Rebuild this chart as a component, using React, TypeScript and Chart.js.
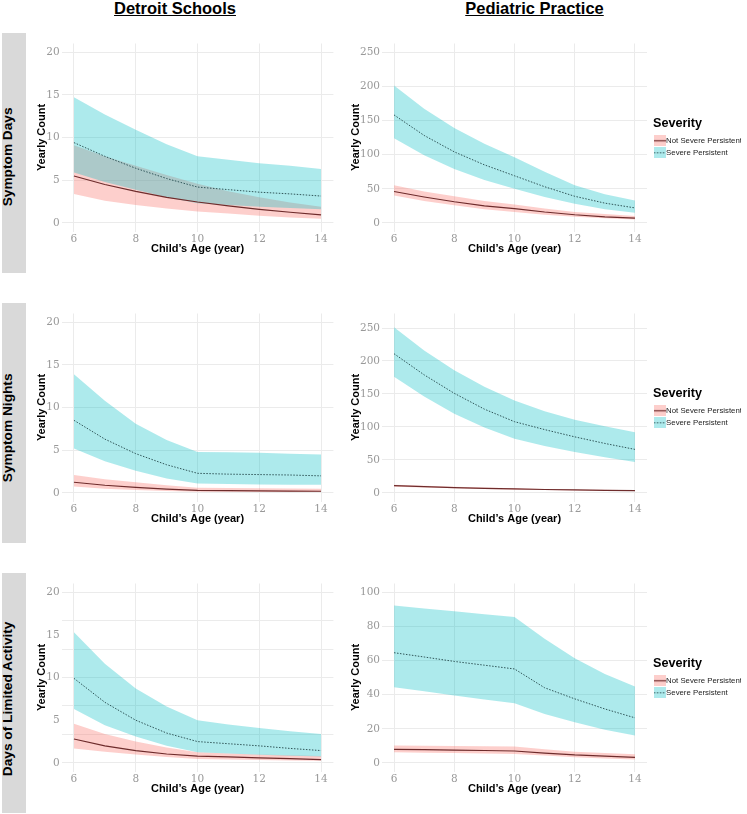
import React, { useEffect, useRef } from 'react';
import { Chart, registerables } from 'chart.js';
Chart.register(...registerables);

// ---------- data ----------
const ages = [6, 7, 8, 9, 10, 11, 12, 13, 14];
const xTickVals = [6, 8, 10, 12, 14];
const severityLabels = ['Not Severe Persistent', 'Severe Persistent'];
const columnTitles = ['Detroit Schools', 'Pediatric Practice'];
const rowTitles = ['Symptom Days', 'Symptom Nights', 'Days of Limited Activity'];

// Detroit Schools – Symptom Days
const dsDaysNspMean = [5.5, 4.5, 3.7, 3.0, 2.45, 2.0, 1.6, 1.25, 0.95];
const dsDaysNspLow = [3.4, 2.6, 2.1, 1.7, 1.35, 1.1, 0.85, 0.65, 0.5];
const dsDaysNspHigh = [9.1, 7.8, 6.7, 5.6, 4.6, 3.7, 3.0, 2.4, 1.9];
const dsDaysSpMean = [9.4, 7.8, 6.4, 5.2, 4.2, 3.9, 3.6, 3.4, 3.15];
const dsDaysSpLow = [5.9, 4.8, 3.9, 3.0, 2.3, 2.1, 1.9, 1.75, 1.6];
const dsDaysSpHigh = [14.7, 12.7, 10.9, 9.2, 7.8, 7.4, 7.0, 6.7, 6.3];

// Detroit Schools – Symptom Nights
const dsNightsNspMean = [1.25, 0.9, 0.65, 0.45, 0.3, 0.27, 0.24, 0.22, 0.2];
const dsNightsNspLow = [0.75, 0.5, 0.35, 0.22, 0.15, 0.13, 0.12, 0.11, 0.1];
const dsNightsNspHigh = [2.1, 1.6, 1.25, 0.9, 0.6, 0.57, 0.55, 0.52, 0.5];
const dsNightsSpMean = [8.5, 6.3, 4.6, 3.3, 2.3, 2.2, 2.15, 2.1, 2.0];
const dsNightsSpLow = [5.2, 3.7, 2.6, 1.7, 1.1, 1.05, 1.0, 0.97, 0.95];
const dsNightsSpHigh = [13.9, 10.8, 8.1, 6.2, 4.8, 4.75, 4.7, 4.6, 4.5];

// Detroit Schools – Days of Limited Activity
const dsLimNspMean = [2.8, 2.0, 1.45, 1.05, 0.8, 0.7, 0.6, 0.5, 0.4];
const dsLimNspLow = [1.7, 1.3, 1.0, 0.7, 0.45, 0.4, 0.35, 0.3, 0.25];
const dsLimNspHigh = [4.6, 3.4, 2.5, 1.8, 1.25, 1.1, 1.0, 0.9, 0.8];
const dsLimSpMean = [9.9, 7.1, 5.0, 3.5, 2.5, 2.25, 2.0, 1.7, 1.45];
const dsLimSpLow = [6.3, 4.4, 3.1, 2.0, 1.25, 1.1, 0.95, 0.85, 0.75];
const dsLimSpHigh = [15.3, 11.6, 8.7, 6.6, 5.0, 4.5, 4.1, 3.7, 3.4];

// Pediatric Practice – Symptom Days
const ppDaysNspMean = [46, 38, 31, 25, 21, 16, 12, 9, 7];
const ppDaysNspLow = [40, 32, 26, 20, 16, 12, 9, 7, 5];
const ppDaysNspHigh = [55, 46, 39, 32, 27, 21, 16, 13, 10];
const ppDaysSpMean = [158, 128, 104, 85, 69, 53, 39, 29, 22];
const ppDaysSpLow = [124, 99, 79, 63, 50, 38, 28, 20, 15];
const ppDaysSpHigh = [201, 167, 139, 116, 96, 75, 55, 42, 33];

// Pediatric Practice – Symptom Nights
const ppNightsNspMean = [11, 9.5, 8, 7, 6, 5.2, 4.5, 4, 3.5];
const ppNightsNspLow = [9.5, 8.2, 7, 6, 5, 4.4, 3.8, 3.3, 2.8];
const ppNightsNspHigh = [12.5, 11, 9.3, 8.1, 7, 6.1, 5.3, 4.7, 4.2];
const ppNightsSpMean = [211, 179, 151, 127, 108, 96, 85, 75, 66];
const ppNightsSpLow = [176, 146, 120, 99, 82, 71, 62, 54, 47];
const ppNightsSpHigh = [251, 216, 186, 161, 140, 124, 111, 101, 92];

// Pediatric Practice – Days of Limited Activity
const ppLimNspMean = [8.0, 7.8, 7.5, 7.3, 7.0, 5.8, 4.7, 4.0, 3.3];
const ppLimNspLow = [6.3, 6.0, 5.8, 5.5, 5.3, 4.3, 3.4, 2.6, 2.0];
const ppLimNspHigh = [10.2, 10.0, 9.9, 9.8, 9.6, 8.0, 6.6, 5.8, 5.1];
const ppLimSpMean = [64.5, 62, 59.4, 57.2, 55, 44, 37.5, 31.6, 26.4];
const ppLimSpLow = [44.3, 42, 39.5, 37.2, 35, 28.7, 23.8, 19.5, 16];
const ppLimSpHigh = [92.2, 90.4, 88.7, 87, 85.4, 72.7, 61.3, 52, 44.7];

// y tick labels / grid values
const dsYLabels = [0, 5, 10, 15, 20];
const dsYGridThirds = [0, 10 / 3, 20 / 3, 10, 40 / 3, 50 / 3, 20];
const ppDaysYLabels = [0, 50, 100, 150, 200, 250];
const ppNightsYLabels = [0, 50, 100, 150, 200, 250];
const ppLimYLabels = [0, 20, 40, 60, 80, 100];

// ---------- styles ----------
const NSP_FILL = 'rgba(248,118,109,0.35)';
const SP_FILL = 'rgba(0,191,196,0.32)';
const NSP_LINE = '#6e2c2c';
const SP_LINE = '#2f5558';
const GRID = '#ebebeb';
const TICK = '#999999';
const SANS = '"Liberation Sans", Arial, sans-serif';
const SERIF = '"DejaVu Serif", serif';

type Series = {
  nspMean: number[]; nspLow: number[]; nspHigh: number[];
  spMean: number[]; spLow: number[]; spHigh: number[];
};

type PanelProps = {
  left: number; top: number; width: number; height: number;
  padRight: number; yWidth: number; yTitlePad: number;
  yMin: number; yMax: number; yLabels: number[]; yGrid: number[];
  series: Series; legend: boolean;
};

function makeKey(fill: string, line: string, dash: number[]) {
  const c = document.createElement('canvas');
  c.width = 12; c.height = 11;
  const g = c.getContext('2d')!;
  g.fillStyle = fill;
  g.fillRect(0, 0, 12, 11);
  g.strokeStyle = line;
  g.lineWidth = 1.2;
  g.setLineDash(dash);
  g.beginPath();
  g.moveTo(0, 5.5);
  g.lineTo(12, 5.5);
  g.stroke();
  return c;
}

const near = (list: number[], v: number) => list.some((l) => Math.abs(l - v) < 1e-6);

function Panel(p: PanelProps) {
  const ref = useRef<HTMLCanvasElement>(null);
  useEffect(() => {
    const pts = (arr: number[]) => ages.map((a, i) => ({ x: a, y: arr[i] }));
    const base = { pointRadius: 0, pointHoverRadius: 0, tension: 0, xAxisID: 'x', yAxisID: 'y' };
    const s = p.series;
    const clear = 'rgba(0,0,0,0)';
    const datasets: any[] = [
      { ...base, label: severityLabels[1], data: pts(s.spMean), borderColor: SP_LINE, borderWidth: 1, borderDash: [1.5, 1.5], fill: false },
      { ...base, label: severityLabels[0], data: pts(s.nspMean), borderColor: NSP_LINE, borderWidth: 1.2, fill: false },
      { ...base, label: 'sp-high', data: pts(s.spHigh), borderColor: clear, borderWidth: 1, backgroundColor: SP_FILL, fill: '+1' },
      { ...base, label: 'sp-low', data: pts(s.spLow), borderColor: clear, borderWidth: 1, fill: false },
      { ...base, label: 'nsp-high', data: pts(s.nspHigh), borderColor: clear, borderWidth: 1, backgroundColor: NSP_FILL, fill: '+1' },
      { ...base, label: 'nsp-low', data: pts(s.nspLow), borderColor: clear, borderWidth: 1, fill: false },
    ];
    const yTickVals = Array.from(new Set([...p.yLabels, ...p.yGrid])).sort((a, b) => a - b);
    const scales: any = {
      x: {
        type: 'linear', min: 5.6, max: 14.4,
        afterBuildTicks: (ax: any) => { ax.ticks = xTickVals.map((v) => ({ value: v })); },
        grid: { color: GRID, lineWidth: 1, drawTicks: false },
        border: { display: false },
        ticks: { color: TICK, font: { family: SERIF, size: 10.5 }, padding: 1.5, autoSkip: false, maxRotation: 0 },
        title: { display: true, text: 'Child\u2019s Age (year)', color: '#000', font: { family: SANS, size: 11, weight: 'bold' }, padding: { top: 0, bottom: 5.9 } },
        afterFit: (sc: any) => { sc.height = 30; },
      },
      y: {
        type: 'linear', min: p.yMin, max: p.yMax,
        afterBuildTicks: (ax: any) => { ax.ticks = yTickVals.map((v) => ({ value: v })); },
        grid: { color: (c: any) => (c.tick && near(p.yGrid, c.tick.value) ? GRID : 'rgba(0,0,0,0)'), lineWidth: 1, drawTicks: false },
        border: { display: false },
        ticks: {
          color: TICK, font: { family: SERIF, size: 10.5 }, padding: 2, autoSkip: false,
          callback: (v: number) => (near(p.yLabels, v) ? String(Math.round(v)) : ''),
        },
        title: { display: true, text: 'Yearly Count', color: '#000', font: { family: SANS, size: 11, weight: 'bold' }, padding: { top: p.yTitlePad, bottom: 0 } },
        afterFit: (sc: any) => { sc.width = p.yWidth; },
      },
    };
    if (p.legend) {
      scales.sp = {
        type: 'linear', position: 'right', display: true,
        grid: { display: false, drawTicks: false }, border: { display: false },
        ticks: { display: false },
        afterFit: (sc: any) => { sc.width = 6; },
      };
    }
    const keyN = makeKey(NSP_FILL, NSP_LINE, []);
    const keyS = makeKey(SP_FILL, SP_LINE, [1.5, 1.5]);
    const chart = new Chart(ref.current!, {
      type: 'line',
      data: { datasets },
      options: {
        responsive: false,
        maintainAspectRatio: false,
        animation: false,
        events: [],
        layout: { padding: { left: 0, right: p.padRight, top: 13.5, bottom: 0.5 } },
        scales,
        plugins: {
          tooltip: { enabled: false },
          legend: p.legend
            ? {
                display: true, position: 'right', align: 'center', fullSize: false, maxWidth: 88,
                title: { display: true, text: 'Severity', position: 'start', color: '#000', font: { family: SANS, size: 12.6, weight: 'bold' }, padding: { top: 3.4, bottom: 0 } },
                labels: {
                  usePointStyle: true, pointStyleWidth: 5, padding: 4.2, color: '#222',
                  font: { family: SANS, size: 7.8 },
                  generateLabels: () => [
                    { text: severityLabels[0], pointStyle: keyN, fillStyle: NSP_FILL, strokeStyle: NSP_LINE, fontColor: '#222', lineWidth: 0, hidden: false, datasetIndex: 1, rotation: 0 },
                    { text: severityLabels[1], pointStyle: keyS, fillStyle: SP_FILL, strokeStyle: SP_LINE, fontColor: '#222', lineWidth: 0, hidden: false, datasetIndex: 0, rotation: 0 },
                  ],
                },
              }
            : { display: false },
        },
      } as any,
    });
    return () => chart.destroy();
  }, []);
  return (
    <canvas
      ref={ref}
      width={p.width}
      height={p.height}
      style={{ position: 'absolute', left: p.left, top: p.top, width: p.width, height: p.height }}
    />
  );
}

const rowTops = [30, 300, 570];
const stripRanges = [[33, 273], [303, 543], [573, 813]];
const rowLabelCenters = [157, 428, 699];

const rowsSeries: { ds: Series; pp: Series; dsGrid: number[]; ppLabels: number[]; ppMin: number; ppMax: number }[] = [
  {
    ds: { nspMean: dsDaysNspMean, nspLow: dsDaysNspLow, nspHigh: dsDaysNspHigh, spMean: dsDaysSpMean, spLow: dsDaysSpLow, spHigh: dsDaysSpHigh },
    pp: { nspMean: ppDaysNspMean, nspLow: ppDaysNspLow, nspHigh: ppDaysNspHigh, spMean: ppDaysSpMean, spLow: ppDaysSpLow, spHigh: ppDaysSpHigh },
    dsGrid: dsYLabels, ppLabels: ppDaysYLabels, ppMin: -12.5, ppMax: 262.5,
  },
  {
    ds: { nspMean: dsNightsNspMean, nspLow: dsNightsNspLow, nspHigh: dsNightsNspHigh, spMean: dsNightsSpMean, spLow: dsNightsSpLow, spHigh: dsNightsSpHigh },
    pp: { nspMean: ppNightsNspMean, nspLow: ppNightsNspLow, nspHigh: ppNightsNspHigh, spMean: ppNightsSpMean, spLow: ppNightsSpLow, spHigh: ppNightsSpHigh },
    dsGrid: dsYLabels, ppLabels: ppNightsYLabels, ppMin: -13, ppMax: 272,
  },
  {
    ds: { nspMean: dsLimNspMean, nspLow: dsLimNspLow, nspHigh: dsLimNspHigh, spMean: dsLimSpMean, spLow: dsLimSpLow, spHigh: dsLimSpHigh },
    pp: { nspMean: ppLimNspMean, nspLow: ppLimNspLow, nspHigh: ppLimNspHigh, spMean: ppLimSpMean, spLow: ppLimSpLow, spHigh: ppLimSpHigh },
    dsGrid: dsYGridThirds, ppLabels: ppLimYLabels, ppMin: -5, ppMax: 105,
  },
];

export default function App() {
  return (
    <div style={{ position: 'absolute', left: 0, top: 0, width: 747, height: 814, background: '#fff', overflow: 'hidden' }}>
      {columnTitles.map((t, i) => (
        <div
          key={t}
          style={{
            position: 'absolute', left: i === 0 ? 75 : 434.5, top: 0, width: 200, textAlign: 'center',
            fontFamily: SANS, fontWeight: 'bold', fontSize: 16.5, lineHeight: '16.5px', textDecoration: 'underline', color: '#000',
          }}
        >
          {t}
        </div>
      ))}
      {rowTitles.map((t, i) => {
        const [a, b] = stripRanges[i];
        const W = 200, H = 13.7;
        const cx = 8.35, cy = rowLabelCenters[i];
        return (
          <React.Fragment key={t}>
            <div style={{ position: 'absolute', left: 2, top: a, width: 24, height: b - a, background: '#d9d9d9' }} />
            <div
              style={{
                position: 'absolute', left: cx - W / 2, top: cy - H / 2, width: W, height: H,
                lineHeight: H + 'px', textAlign: 'center', fontFamily: SANS, fontWeight: 'bold', fontSize: 13.7,
                color: '#000', transform: 'rotate(-90deg)', whiteSpace: 'nowrap',
              }}
            >
              {t}
            </div>
          </React.Fragment>
        );
      })}
      {rowsSeries.map((r, i) => (
        <React.Fragment key={i}>
          <Panel
            left={28} top={rowTops[i]} width={312} height={232}
            padRight={6.6} yWidth={33.6} yTitlePad={7.4}
            yMin={-1} yMax={21} yLabels={dsYLabels} yGrid={r.dsGrid}
            series={r.ds} legend={false}
          />
          <Panel
            left={340} top={rowTops[i]} width={401} height={232}
            padRight={0} yWidth={42} yTitlePad={9.4}
            yMin={r.ppMin} yMax={r.ppMax} yLabels={r.ppLabels} yGrid={r.ppLabels}
            series={r.pp} legend={true}
          />
        </React.Fragment>
      ))}
    </div>
  );
}
